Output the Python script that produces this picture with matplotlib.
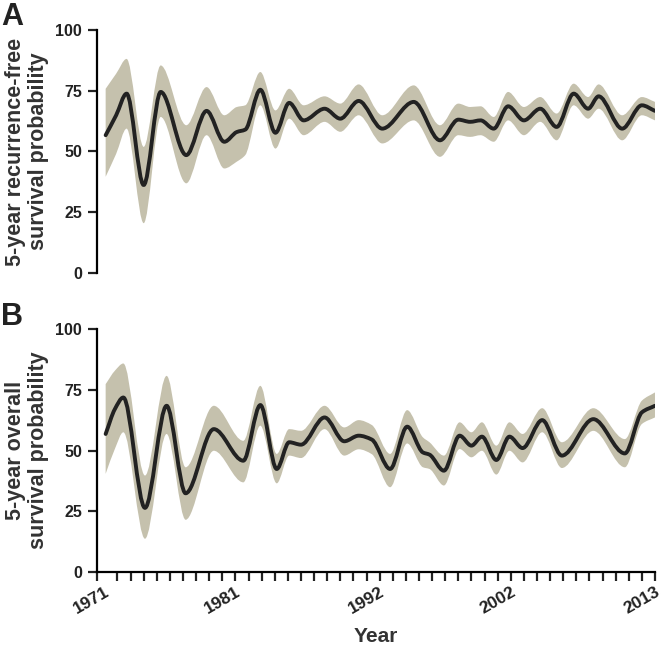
import numpy as np
import matplotlib.pyplot as plt
from matplotlib.path import Path
from matplotlib.patches import PathPatch

# panel A: 5-year recurrence-free survival
years_a = [1971.1, 1971.9, 1972.7, 1974.0, 1975.3, 1977.25, 1978.8, 1980.15, 1981.1, 1981.75,
           1982.9, 1984.05, 1985.1, 1986.2, 1987.8, 1989.0, 1990.4, 1992.2, 1994.6, 1996.6,
           1998.0, 1998.9, 1999.7, 2000.7, 2001.8, 2003.0, 2004.25, 2005.5, 2006.8, 2007.9,
           2008.7, 2010.5, 2012.0, 2013.0]
rfs_mean = [56.7, 64.9, 73.8, 36.2, 74.5, 48.5, 66.7, 54.0, 58.0, 59.0,
            75.4, 57.7, 70.0, 62.8, 67.6, 63.5, 70.8, 59.4, 70.4, 54.6,
            63.1, 62.2, 62.8, 59.4, 68.6, 62.8, 67.6, 60.1, 73.8, 67.6,
            72.7, 59.4, 69.0, 66.7]
rfs_low = [39.6, 49.0, 59.4, 20.5, 64.2, 36.9, 56.7, 43.0, 45.8, 48.5,
           69.0, 51.2, 63.5, 56.7, 62.2, 58.1, 64.9, 53.3, 62.8, 47.8,
           56.7, 56.0, 56.7, 54.0, 62.8, 56.7, 62.2, 54.6, 69.0, 63.5,
           67.6, 54.6, 64.9, 62.8]
rfs_high = [75.8, 82.0, 88.1, 51.9, 85.4, 60.8, 76.5, 64.9, 68.3, 69.0,
            82.7, 66.9, 75.8, 69.0, 72.7, 69.7, 77.6, 64.9, 77.2, 60.8,
            69.7, 68.3, 68.6, 64.2, 74.5, 68.3, 72.4, 65.6, 77.9, 72.4,
            77.6, 64.9, 72.4, 70.4]

# panel B: 5-year overall survival
years_b = [1971.1, 1971.8, 1972.45, 1974.1, 1975.75, 1977.2, 1979.35, 1981.6, 1982.9, 1984.15,
           1985.1, 1986.0, 1987.8, 1989.3, 1990.4, 1991.4, 1992.8, 1994.1, 1995.3, 1995.8,
           1996.9, 1998.1, 1999.0, 1999.8, 2000.9, 2001.9, 2002.9, 2004.4, 2005.9, 2008.3,
           2010.7, 2012.0, 2013.0]
os_mean = [56.8, 67.0, 71.8, 26.4, 68.4, 32.4, 58.8, 45.8, 68.7, 42.4,
           53.4, 52.4, 63.6, 53.8, 56.1, 54.5, 42.4, 59.8, 49.2, 48.3,
           41.7, 56.1, 52.0, 55.7, 46.1, 55.7, 51.0, 62.5, 47.9, 62.9,
           48.8, 65.7, 68.4]
os_low = [40.4, 50.6, 57.5, 13.7, 56.8, 21.5, 49.9, 36.9, 60.2, 36.5,
          47.9, 46.9, 58.8, 47.9, 50.5, 48.5, 34.9, 52.9, 43.1, 42.4,
          35.6, 50.6, 47.2, 49.9, 40.1, 49.9, 45.1, 57.5, 42.8, 58.1,
          43.1, 60.9, 63.6]
os_high = [77.3, 82.8, 85.8, 39.7, 80.7, 43.1, 68.4, 54.0, 76.6, 48.6,
           58.8, 58.1, 68.4, 59.5, 62.5, 60.5, 48.6, 66.6, 55.4, 53.4,
           47.9, 61.6, 57.5, 61.6, 52.0, 61.6, 56.8, 67.4, 53.4, 67.4,
           54.7, 70.5, 73.9]

yticks = [0, 25, 50, 75, 100]
year_ticks = list(range(1972, 2014))
xlabels = {1981: '1981', 1992: '1992', 2002: '2002', 2013: '2013'}

band_col = '#c5c1ad'
line_col = '#222222'
plt.rcParams['font.family'] = ['Liberation Sans', 'DejaVu Sans']


def slopes(x, y):
    # monotone cubic slopes so the smooth line peaks at the read points
    x = np.asarray(x, float)
    y = np.asarray(y, float)
    h = np.diff(x)
    d = np.diff(y) / h
    m = np.zeros_like(y)
    for k in range(1, len(x) - 1):
        if d[k - 1] * d[k] > 0:
            w1 = 2 * h[k] + h[k - 1]
            w2 = h[k] + 2 * h[k - 1]
            m[k] = (w1 + w2) / (w1 / d[k - 1] + w2 / d[k])
    m[0] = d[0]
    m[-1] = d[-1]
    return m


def curve(x, y):
    m = slopes(x, y)
    verts = [(x[0], y[0])]
    for k in range(len(x) - 1):
        h = x[k + 1] - x[k]
        verts += [(x[k] + h / 3, y[k] + m[k] * h / 3),
                  (x[k + 1] - h / 3, y[k + 1] - m[k + 1] * h / 3),
                  (x[k + 1], y[k + 1])]
    return verts


def draw(ax, x, mean, low, high):
    up = curve(x, high)
    lo = curve(x, low)[::-1]
    verts = up + lo + [up[0]]
    codes = ([Path.MOVETO] + [Path.CURVE4] * (len(up) - 1) +
             [Path.LINETO] + [Path.CURVE4] * (len(lo) - 1) + [Path.CLOSEPOLY])
    ax.add_patch(PathPatch(Path(verts, codes), facecolor=band_col, edgecolor='none'))
    mv = curve(x, mean)
    mc = [Path.MOVETO] + [Path.CURVE4] * (len(mv) - 1)
    ax.add_patch(PathPatch(Path(mv, mc), facecolor='none', edgecolor=line_col,
                           lw=2.8, capstyle='round', joinstyle='round'))


fig = plt.figure(figsize=(6.63, 6.49), dpi=100)
ax1 = fig.add_axes([0.1463, 0.5794, 0.8416, 0.3744])
ax2 = fig.add_axes([0.1463, 0.1186, 0.8416, 0.3745])

draw(ax1, years_a, rfs_mean, rfs_low, rfs_high)
draw(ax2, years_b, os_mean, os_low, os_high)

for ax in (ax1, ax2):
    ax.set_xlim(1970.44, 2013)
    ax.set_ylim(0, 100)
    ax.spines['top'].set_visible(False)
    ax.spines['right'].set_visible(False)
    ax.spines['left'].set_linewidth(1.6)
    ax.spines['bottom'].set_linewidth(1.6)
    ax.set_yticks(yticks)
    ax.set_yticklabels([str(t) for t in yticks], fontweight='bold', fontsize=11.5,
                       color='#222222')
    ax.tick_params(axis='y', length=6.7, width=1.6, pad=4, color='#222222')

ax1.spines['bottom'].set_visible(False)
ax1.set_xticks([])

# first tick sits on the spine, the 1971 label on the 1971 position
ax2.set_xticks([1970.44] + year_ticks)
ax2.set_xticklabels([''] + [xlabels.get(t, '') for t in year_ticks], rotation=30,
                    ha='right', va='top', rotation_mode='anchor',
                    fontweight='bold', fontsize=12.5, color='#222222')
ax2.set_xticks([1971], labels=['1971'], minor=True)
for lab in ax2.get_xticklabels(minor=True):
    lab.set(rotation=30, ha='right', va='top', rotation_mode='anchor',
            fontweight='bold', fontsize=12.5, color='#222222')
ax2.tick_params(axis='x', which='major', length=6.5, width=1.6, pad=2.5, color='#222222')
ax2.tick_params(axis='x', which='minor', length=0, pad=9)
ax2.set_xlabel('Year', fontweight='bold', fontsize=15, color='#333333')
ax2.xaxis.set_label_coords(0.5, -0.225)

ax1.set_ylabel('5-year recurrence-free\nsurvival probability', fontweight='bold',
               fontsize=15.5, color='#333333', linespacing=1.1)
ax2.set_ylabel('5-year overall\nsurvival probability', fontweight='bold',
               fontsize=15.5, color='#333333', linespacing=1.1)
ax1.yaxis.set_label_coords(-0.086, 0.5)
ax2.yaxis.set_label_coords(-0.086, 0.5)

fig.text(0.002, 0.997, 'A', fontsize=22, fontweight='bold', va='top', ha='left', color='#222222')
fig.text(0.002, 0.535, 'B', fontsize=22, fontweight='bold', va='top', ha='left', color='#222222')

fig.savefig('out.png', dpi=100)
